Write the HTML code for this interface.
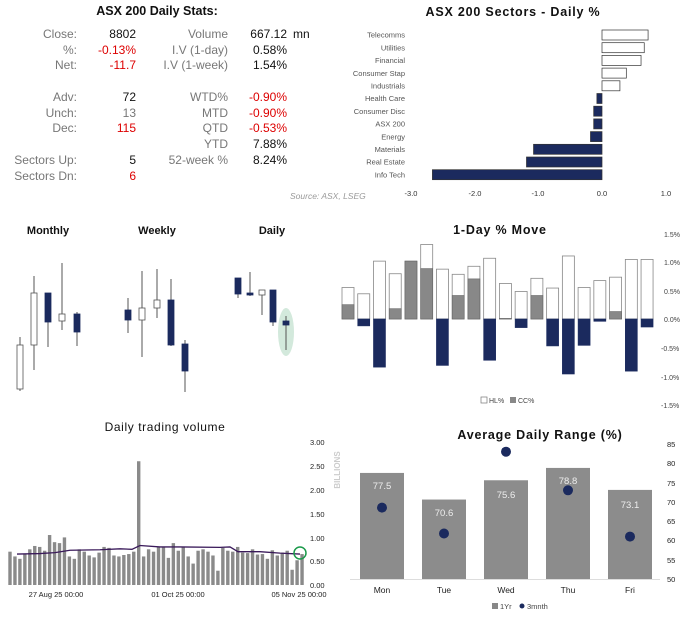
<!DOCTYPE html>
<html><head><meta charset="utf-8"><style>
html,body{margin:0;padding:0;background:#fff}
svg{display:block;font-family:"Liberation Sans",sans-serif}
</style></head><body>
<svg id="s" width="690" height="617" viewBox="0 0 690 617" xmlns="http://www.w3.org/2000/svg">
<!-- Stats -->
<text x="157" y="15" font-size="12.5" font-weight="bold" text-anchor="middle" fill="#111">ASX 200 Daily Stats:</text>
<g font-size="12" fill="#777" text-anchor="end">
<text x="77" y="38">Close:</text><text x="77" y="54">%:</text><text x="77" y="69">Net:</text>
<text x="77" y="101">Adv:</text><text x="77" y="117">Unch:</text><text x="77" y="132">Dec:</text>
<text x="77" y="164">Sectors Up:</text><text x="77" y="180">Sectors Dn:</text>
<text x="228" y="38">Volume</text><text x="228" y="54">I.V (1-day)</text><text x="228" y="69">I.V (1-week)</text>
<text x="228" y="101">WTD%</text><text x="228" y="117">MTD</text><text x="228" y="132">QTD</text>
<text x="228" y="148">YTD</text><text x="228" y="164">52-week %</text>
</g>
<g font-size="12" text-anchor="end">
<text x="136" y="38" fill="#111">8802</text><text x="136" y="54" fill="#d00">-0.13%</text><text x="136" y="69" fill="#d00">-11.7</text>
<text x="136" y="101" fill="#111">72</text><text x="136" y="117" fill="#777">13</text><text x="136" y="132" fill="#d00">115</text>
<text x="136" y="164" fill="#111">5</text><text x="136" y="180" fill="#d00">6</text>
<text x="287" y="38" fill="#111">667.12</text><text x="287" y="54" fill="#111">0.58%</text><text x="287" y="69" fill="#111">1.54%</text>
<text x="287" y="101" fill="#d00">-0.90%</text><text x="287" y="117" fill="#d00">-0.90%</text><text x="287" y="132" fill="#d00">-0.53%</text>
<text x="287" y="148" fill="#111">7.88%</text><text x="287" y="164" fill="#111">8.24%</text>
</g>
<text x="293" y="38" font-size="12" fill="#111">mn</text>

<!-- Sectors -->
<text x="513" y="16" font-size="12.5" font-weight="bold" text-anchor="middle" fill="#111" letter-spacing="0.8">ASX 200 Sectors - Daily %</text>
<g id="sect" font-size="7.5" fill="#555" text-anchor="end"></g>
<g font-size="7.5" fill="#333" text-anchor="middle">
<text x="411" y="196">-3.0</text><text x="475" y="196">-2.0</text><text x="538" y="196">-1.0</text><text x="602" y="196">0.0</text><text x="666" y="196">1.0</text>
</g>
<text x="290" y="199" font-size="8.5" font-style="italic" fill="#999">Source: ASX, LSEG</text>

<!-- Candles -->
<g font-size="11" font-weight="bold" fill="#111" text-anchor="middle">
<text x="48" y="234">Monthly</text><text x="157" y="234">Weekly</text><text x="272" y="234">Daily</text>
</g>
<ellipse cx="286" cy="332" rx="8" ry="24" fill="#d3e9dc"/>
<g id="cand"></g>

<!-- 1-day move -->
<text x="500" y="234" font-size="12.5" font-weight="bold" text-anchor="middle" fill="#111" letter-spacing="0.8">1-Day % Move</text>
<g id="move"></g>
<g font-size="7" fill="#444">
<text x="664" y="237">1.5%</text><text x="664" y="265">1.0%</text><text x="664" y="294">0.5%</text><text x="664" y="322">0.0%</text>
<text x="661" y="351">-0.5%</text><text x="661" y="380">-1.0%</text><text x="661" y="408">-1.5%</text>
</g>
<rect x="481" y="397" width="6" height="6" fill="#fff" stroke="#777" stroke-width="0.7"/>
<text x="489" y="403" font-size="7" fill="#444">HL%</text>
<rect x="510" y="397" width="6" height="6" fill="#888"/>
<text x="518" y="403" font-size="7" fill="#444">CC%</text>

<!-- Volume -->
<text x="165" y="431" font-size="12" fill="#111" text-anchor="middle" letter-spacing="0.6">Daily trading volume</text>
<g id="vol"></g>
<g font-size="7.5" fill="#222">
<text x="310" y="445">3.00</text><text x="310" y="469">2.50</text><text x="310" y="493">2.00</text><text x="310" y="517">1.50</text>
<text x="310" y="541">1.00</text><text x="310" y="564">0.50</text><text x="310" y="588">0.00</text>
</g>
<text transform="translate(340,470) rotate(-90)" font-size="8" font-weight="bold" fill="#ccc" text-anchor="middle">BILLIONS</text>
<g font-size="7.5" fill="#222" text-anchor="middle">
<text x="56" y="597">27 Aug 25 00:00</text><text x="178" y="597">01 Oct 25 00:00</text><text x="299" y="597">05 Nov 25 00:00</text>
</g>

<!-- ADR -->
<text x="540" y="439" font-size="12.5" font-weight="bold" text-anchor="middle" fill="#111" letter-spacing="0.8">Average Daily Range (%)</text>
<g id="adr"></g>
<g font-size="7.5" fill="#222">
<text x="667" y="447">85</text><text x="667" y="466">80</text><text x="667" y="486">75</text><text x="667" y="505">70</text>
<text x="667" y="524">65</text><text x="667" y="543">60</text><text x="667" y="563">55</text><text x="667" y="582">50</text>
</g>
<g font-size="8.5" fill="#222" text-anchor="middle">
<text x="382" y="593">Mon</text><text x="444" y="593">Tue</text><text x="506" y="593">Wed</text><text x="568" y="593">Thu</text><text x="630" y="593">Fri</text>
</g>
<g font-size="9.5" fill="#eee" text-anchor="middle">
<text x="382" y="489">77.5</text><text x="444" y="516">70.6</text><text x="506" y="498">75.6</text><text x="568" y="484">78.8</text><text x="630" y="508">73.1</text>
</g>
<rect x="492" y="603" width="6" height="6" fill="#888"/>
<text x="500" y="609" font-size="7.5" fill="#444">1Yr</text>
<circle cx="522" cy="606" r="2.5" fill="#1b2a5e"/>
<text x="527" y="609" font-size="7.5" fill="#444">3mnth</text>
</svg>
<script>
const NS="http://www.w3.org/2000/svg",NAVY="#1b2a5e";
function el(p,t,a,txt){const e=document.createElementNS(NS,t);for(const k in a)e.setAttribute(k,a[k]);if(txt)e.textContent=txt;document.getElementById(p).appendChild(e);return e;}
// sectors
const sec=[["Telecomms",.72],["Utilities",.66],["Financial",.61],["Consumer Stap",.38],["Industrials",.28],["Health Care",-.08],["Consumer Disc",-.13],["ASX 200",-.13],["Energy",-.18],["Materials",-1.07],["Real Estate",-1.18],["Info Tech",-2.65]];
sec.forEach((s,i)=>{const cy=35+i*12.7,z=602,w=s[1]*64;
el("sect","text",{x:405,y:cy+2.7},s[0]);
el("sect","rect",{x:w>0?z:z+w,y:cy-5,width:Math.abs(w),height:10,fill:w>0?"#fff":NAVY,stroke:"#333","stroke-width":0.7});});
// candles [x,bodyTop,bodyBot,wickTop,wickBot,white]
const cs=[[20,345,389,337,391,1],[34,293,345,276,370,1],[48,293,322,293,347,0],[62,314,321,263,330,1],[77,314,332,312,346,0],
[128,310,320,298,333,0],[142,308,320,271,357,1],[157,300,308,269,318,1],[171,300,345,279,346,0],[185,344,371,340,392,0],
[238,278,294,278,298,0],[250,293,295,272,296,0],[262,290,295,290,315,1],[273,290,322,290,326,0],[286,321,325,316,350,0]];
cs.forEach(c=>{el("cand","line",{x1:c[0],x2:c[0],y1:c[3],y2:c[4],stroke:"#555","stroke-width":1});
el("cand","rect",{x:c[0]-3,y:c[1],width:6,height:Math.max(c[2]-c[1],1.5),fill:c[5]?"#fff":NAVY,stroke:c[5]?"#555":NAVY,"stroke-width":0.8});});
// 1-day move
const hl=[.55,.44,1.01,.79,1.01,1.30,.87,.78,.92,1.06,.62,.48,.71,.54,1.10,.55,.67,.73,1.04,1.04];
const cc=[.25,-.12,-.84,.18,1.01,.88,-.81,.41,.70,-.72,.01,-.15,.41,-.47,-.96,-.46,-.04,.13,-.91,-.14];
const z0=319,k=57.3;
hl.forEach((h,i)=>{const x=342+i*15.74;
el("move","rect",{x:x,y:z0-h*k,width:12,height:h*k,fill:"#fff",stroke:"#888","stroke-width":0.8});
const c=cc[i];el("move","rect",{x:x,y:c>0?z0-c*k:z0,width:12,height:Math.abs(c)*k,fill:c>0?"#888":NAVY,stroke:c>0?"#666":NAVY,"stroke-width":0.6});});
// volume
const v=[0.70,0.60,0.55,0.65,0.75,0.82,0.80,0.72,1.05,0.90,0.88,1.00,0.60,0.55,0.75,0.70,0.62,0.58,0.68,0.80,0.78,0.62,0.60,0.63,0.65,0.70,2.60,0.60,0.75,0.70,0.80,0.80,0.57,0.88,0.72,0.80,0.60,0.45,0.72,0.75,0.70,0.62,0.30,0.78,0.72,0.70,0.80,0.68,0.67,0.75,0.64,0.65,0.55,0.73,0.62,0.68,0.72,0.32,0.52,0.65];
const vb=585,vk=47.6;
v.forEach((h,i)=>{el("vol","rect",{x:10+i*4.95-1.7,y:vb-h*vk,width:3.4,height:h*vk,fill:"#8a8a8a"});});
const ma=[[17,.65],[40,.66],[55,.68],[70,.73],[100,.74],[120,.76],[132,.75],[140,.83],[160,.80],[180,.80],[220,.79],[230,.80],[238,.70],[260,.70],[280,.67],[300,.65]];
el("vol","polyline",{points:ma.map(p=>p[0]+","+(vb-p[1]*vk)).join(" "),fill:"none",stroke:"#3a1a5a","stroke-width":1.3});
el("vol","circle",{cx:300,cy:553,r:6,fill:"none",stroke:"#1a9a4a","stroke-width":1.5});
// adr
const y=v=>579-(v-50)*3.857;
[[360,77.5,68.5],[422,70.6,61.8],[484,75.6,83],[546,78.8,73],[608,73.1,61]].forEach(d=>{
el("adr","rect",{x:d[0],y:y(d[1]),width:44,height:579-y(d[1]),fill:"#8c8c8c"});});
el("adr","line",{x1:350,x2:660,y1:579.5,y2:579.5,stroke:"#ddd","stroke-width":1});
[[382,68.5],[444,61.8],[506,83],[568,73],[630,61]].forEach(d=>{el("adr","circle",{cx:d[0],cy:y(d[1]),r:5,fill:NAVY});});
// move labels on top
const s=document.getElementById("s");["adr"].forEach(id=>{const t=[...s.querySelectorAll("g")].filter(g=>g.getAttribute("fill")=="#eee")[0];s.appendChild(t);});
</script>
</body></html>
